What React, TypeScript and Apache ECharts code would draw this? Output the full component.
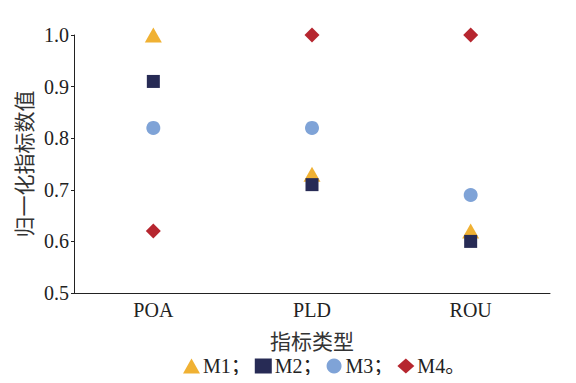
import React, { useEffect, useRef } from "react";
import * as echarts from "echarts";

const categories = ["POA", "PLD", "ROU"];
const m1 = [1.0, 0.73, 0.62];
const m2 = [0.91, 0.71, 0.6];
const m3 = [0.82, 0.82, 0.69];
const m4 = [0.62, 1.0, 1.0];
const yTicks = { min: 0.5, max: 1.0, interval: 0.1 };

const serif = "'Liberation Serif', 'Times New Roman', 'Noto Sans CJK SC', serif";
const cjk = "'Noto Sans CJK SC', sans-serif";

export default function App() {
  const ref = useRef<HTMLDivElement>(null);
  useEffect(() => {
    if (!ref.current) return;
    const chart = echarts.init(ref.current, undefined, { renderer: "svg" });
    const axisColor = "#222";
    const legendNames: Record<string, string> = { M1: "M1；", M2: "M2；", M3: "M3；", M4: "M4。" };
    chart.setOption({
      animation: false,
      grid: { left: 74, right: 26, top: 35, bottom: 90, containLabel: false },
      legend: {
        top: 351,
        left: 178,
        itemGap: 4,
        itemWidth: 17,
        itemHeight: 15,
        formatter: (n: string) => legendNames[n] || n,
        textStyle: { fontFamily: serif, fontSize: 20, color: "#222", padding: [0, 0, 0, -2] },
        data: [
          { name: "M1", icon: "triangle" },
          { name: "M2", icon: "rect" },
          { name: "M3", icon: "circle" },
          { name: "M4", icon: "diamond" },
        ],
      },
      xAxis: {
        type: "category",
        data: categories,
        boundaryGap: true,
        name: "指标类型",
        nameLocation: "middle",
        nameGap: 36,
        nameTextStyle: { fontFamily: cjk, fontSize: 21, color: "#333" },
        axisLine: { lineStyle: { color: axisColor, width: 1 } },
        axisTick: { inside: true, length: 5, lineStyle: { color: axisColor } },
        axisLabel: { fontFamily: serif, fontSize: 20, color: "#222", margin: 7 },
        splitLine: { show: false },
      },
      yAxis: {
        type: "value",
        min: yTicks.min,
        max: yTicks.max,
        interval: yTicks.interval,
        name: "归一化指标数值",
        nameLocation: "middle",
        nameGap: 38,
        nameRotate: 90,
        nameTextStyle: { fontFamily: cjk, fontSize: 21, color: "#333", lineHeight: 21 },
        axisLine: { show: true, lineStyle: { color: axisColor, width: 1 } },
        axisTick: { show: true, inside: false, length: 3, lineStyle: { color: axisColor } },
        axisLabel: {
          fontFamily: serif,
          fontSize: 20,
          color: "#222",
          margin: 5,
          formatter: (v: number) => v.toFixed(1),
        },
        splitLine: { show: false },
      },
      series: [
        { name: "M1", type: "scatter", data: m1, symbol: "triangle", symbolSize: [17, 15], itemStyle: { color: "#F0B133", opacity: 1 }, z: 2 },
        { name: "M2", type: "scatter", data: m2, symbol: "rect", symbolSize: 13, itemStyle: { color: "#272B55", opacity: 1 }, z: 3 },
        { name: "M3", type: "scatter", data: m3, symbol: "circle", symbolSize: 14, itemStyle: { color: "#7FA3D7", opacity: 1 }, z: 4 },
        { name: "M4", type: "scatter", data: m4, symbol: "diamond", symbolSize: 15, itemStyle: { color: "#B6262F", opacity: 1 }, z: 5 },
      ],
    });
    return () => chart.dispose();
  }, []);
  return <div ref={ref} style={{ width: 576, height: 383, margin: -8 }} />;
}
